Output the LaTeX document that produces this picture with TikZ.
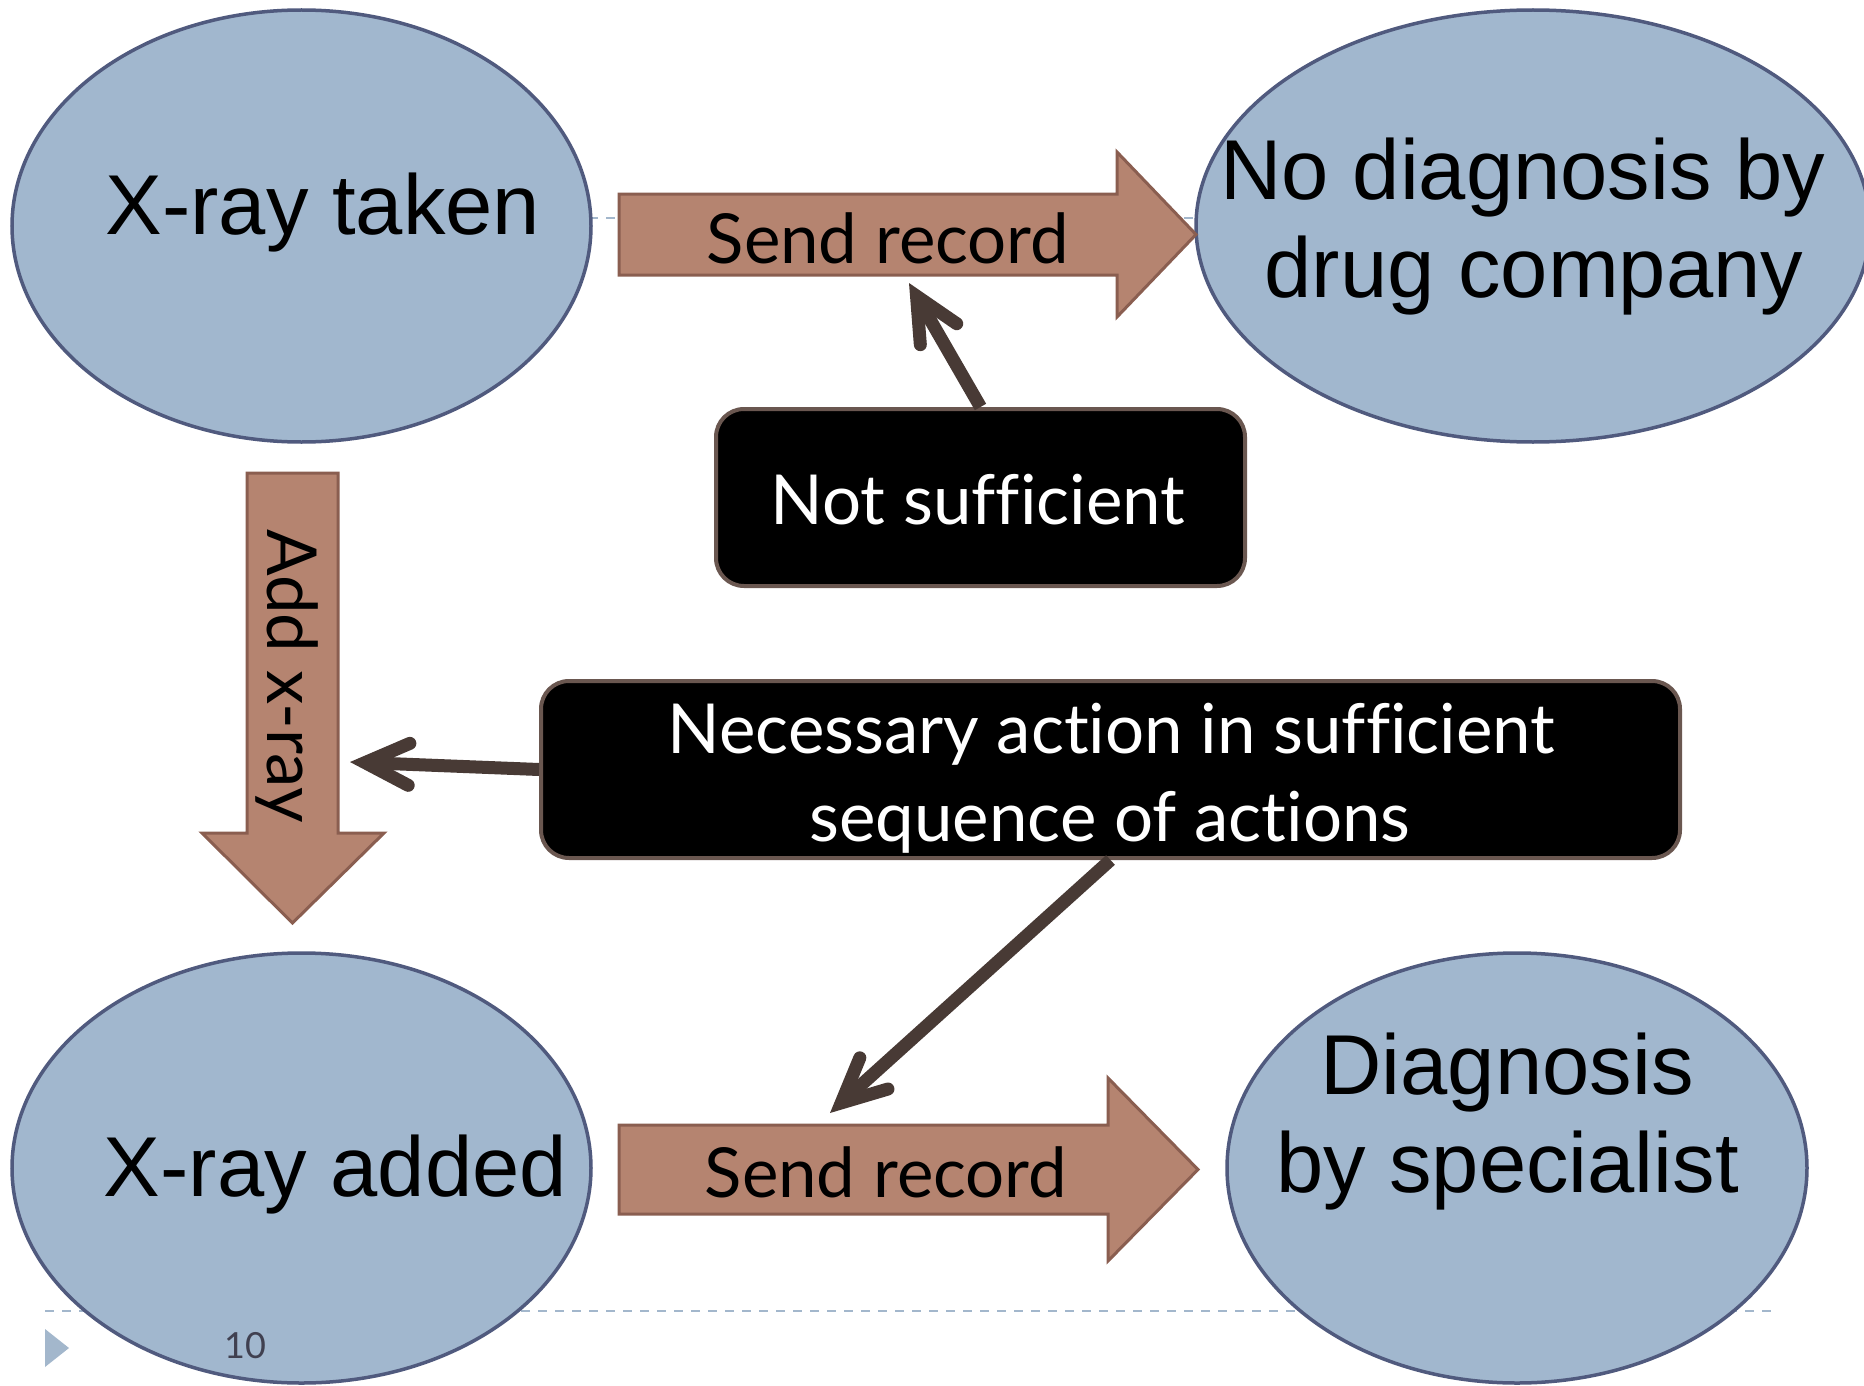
\documentclass[tikz,border=0pt]{standalone}
\usepackage{fontspec}
\setmainfont{Liberation Sans}
\newfontfamily\gillfont[Ligatures=NoCommon]{Lato}
\usetikzlibrary{arrows.meta}
\definecolor{ellfill}{HTML}{A1B7CE}
\definecolor{elldraw}{HTML}{505A7E}
\definecolor{arrfill}{HTML}{B58470}
\definecolor{arrdraw}{HTML}{8A5E50}
\definecolor{boxdraw}{HTML}{6A5750}
\definecolor{conncol}{HTML}{483A35}
\definecolor{dashcol}{HTML}{A3B7CC}
\definecolor{numcol}{HTML}{404050}
\newcommand{\ellsize}{\fontsize{85}{97}\selectfont}
\newcommand{\gillsize}{\gillfont\fontsize{69}{80}\selectfont}
\begin{document}
\begin{tikzpicture}[x=1pt,y=-1pt,
  ell/.style={draw=elldraw, fill=ellfill, line width=3.5pt},
  blockarrow/.style={draw=arrdraw, fill=arrfill, line width=3pt, line join=miter},
  blackbox/.style={draw=boxdraw, fill=black, line width=4pt, rounded corners=28pt, inner sep=0pt},
  elltext/.style={inner sep=0pt, anchor=base, font=\ellsize},
  gilltext/.style={inner sep=0pt, anchor=base, font=\gillsize},
  conn/.style={draw=conncol, line width=13pt, line cap=butt,
    -{Straight Barb[length=44pt, width=42pt, round, line join=miter]}},
  guide/.style={draw=dashcol, line width=2.5pt, dash pattern=on 9pt off 8pt}]
\useasboundingbox (0,0) rectangle (1864,1386);
\fill[white] (0,0) rectangle (1864,1386);
\clip (0,0) rectangle (1864,1386);

% slide template guides
\draw[guide] (45,218) -- (1774,218);
\draw[guide] (45,1311) -- (1774,1311);
\fill[dashcol] (45,1329) -- (69,1348) -- (45,1367) -- cycle;

% ellipses
\draw[ell] (301.5,226) ellipse [x radius=289.5, y radius=216];
\draw[ell] (1533,226) ellipse [x radius=337, y radius=216];
\draw[ell] (301.5,1168) ellipse [x radius=289.5, y radius=215];
\draw[ell] (1517,1168) ellipse [x radius=290, y radius=215];

\node[elltext] (xt) at (323,234) {X-ray taken};
\node[elltext] (nd1) at (1523,200) {No diagnosis by};
\node[elltext] (nd2) at (1534,297.5) {drug company};
\node[elltext] (xa) at (335.5,1196) {X-ray added};
\node[elltext] (dg1) at (1507,1094) {Diagnosis};
\node[elltext] (dg2) at (1507.5,1192) {by specialist};

% block arrows
\draw[blockarrow] (619,194) -- (1117,194) -- (1117,152) -- (1196,234.5) -- (1117,317) -- (1117,275) -- (619,275) -- cycle;
\draw[blockarrow] (619,1125) -- (1108,1125) -- (1108,1078) -- (1198,1169.5) -- (1108,1261) -- (1108,1214) -- (619,1214) -- cycle;
\draw[blockarrow] (247,473) -- (338,473) -- (338,833) -- (384,833) -- (292.5,923) -- (202,833) -- (247,833) -- cycle;

\node[gilltext] (sr1) at (888,263) {Send record};
\node[gilltext] (sr2) at (886,1197) {Send record};
\node[gilltext, rotate=-90] (ax) at (267,676) {Add x-ray};

% black boxes
\node[blackbox, minimum width=529pt, minimum height=177pt] (ns) at (980.5,497.5) {};
\node[blackbox, minimum width=1139pt, minimum height=177pt] (nec) at (1110.5,769.5) {};
\node[gilltext, text=white] (nst) at (978,524) {Not sufficient};
\node[gilltext, text=white] (nec1) at (1111.5,753) {Necessary action in sufficient};
\node[gilltext, text=white] (nec2) at (1110,841) {sequence of actions};

% connectors
\coordinate (srtarget) at (909,283);
\coordinate (axtarget) at (350,762);
\coordinate (sr2target) at (830,1113);
\draw[conn] (ns.north) -- (srtarget);
\draw[conn] (nec.west) -- (axtarget);
\draw[conn] (nec.south) -- (sr2target);

% page number
\node[inner sep=0pt, anchor=base, text=numcol, font=\gillfont\fontsize{36}{44}\selectfont] (pg) at (245,1358) {10};
\end{tikzpicture}
\end{document}
